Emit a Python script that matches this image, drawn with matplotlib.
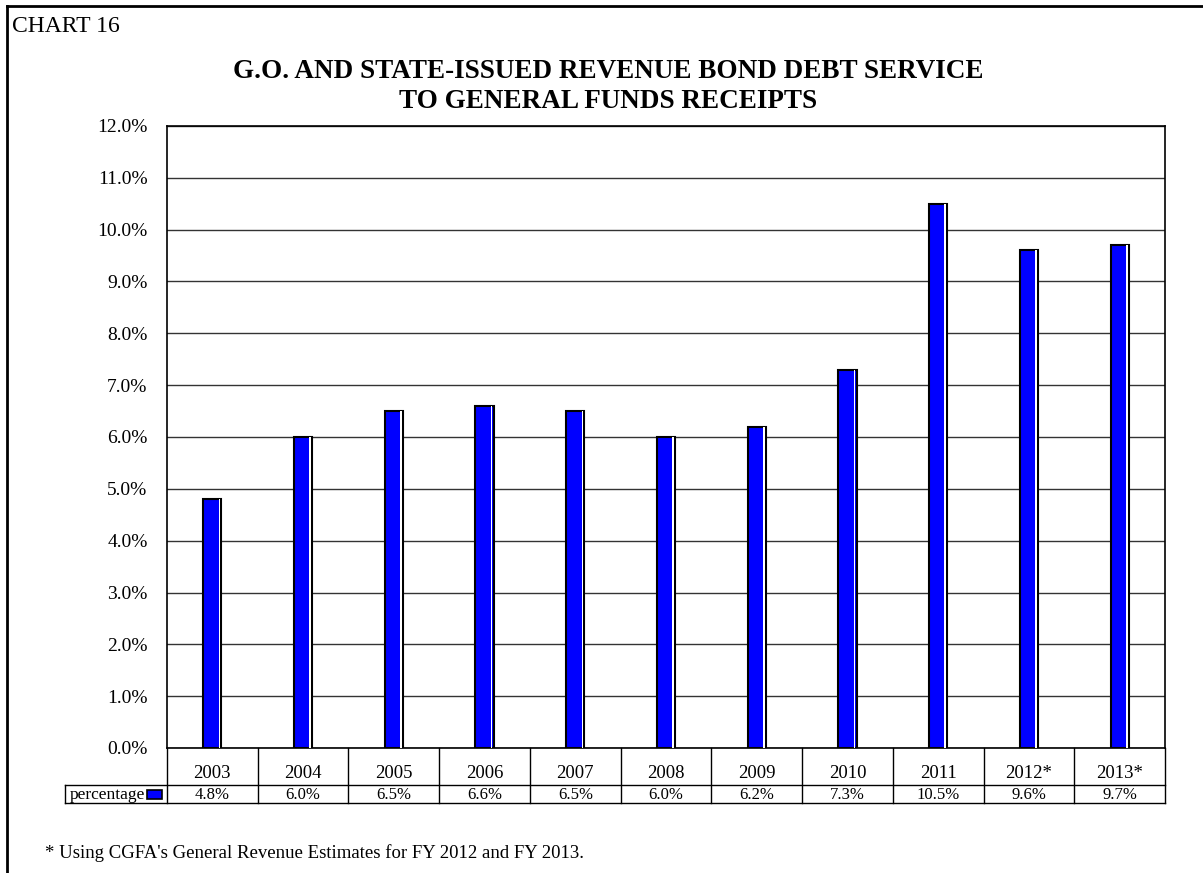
import numpy as np
import matplotlib.pyplot as plt
from matplotlib.patches import Rectangle

plt.rcParams['font.family'] = ['Liberation Serif', 'DejaVu Serif']

# Données du graphique
years = ["2003", "2004", "2005", "2006", "2007", "2008", "2009", "2010", "2011", "2012*", "2013*"]
percentage = [4.8, 6.0, 6.5, 6.6, 6.5, 6.0, 6.2, 7.3, 10.5, 9.6, 9.7]
series_name = "percentage"
title_lines = ["G.O. AND STATE-ISSUED REVENUE BOND DEBT SERVICE", "TO GENERAL FUNDS RECEIPTS"]
footnote = "* Using CGFA's General Revenue Estimates for FY 2012 and FY 2013."

W, H = 1203, 873
fig = plt.figure(figsize=(W / 100, H / 100), dpi=100)


def fy(py):
    return 1 - py / H


def fx(px):
    return px / W


# Cadre extérieur
fig.add_artist(plt.Line2D([fx(7), fx(7)], [0, fy(6)], color='black', lw=2))
fig.add_artist(plt.Line2D([fx(7), 1], [fy(6), fy(6)], color='black', lw=2))
fig.text(fx(12), fy(26), "CHART 16", fontsize=17, va='center', ha='left')
fig.text(fx(608), fy(72), title_lines[0], fontsize=19.5, fontweight='bold', ha='center', va='center')
fig.text(fx(608), fy(101), title_lines[1], fontsize=19.5, fontweight='bold', ha='center', va='center')

# Zone du graphique
left, right, top, bottom = 167, 1165, 126, 748
ax = fig.add_axes([fx(left), fy(bottom), (right - left) / W, (bottom - top) / H])
x = np.arange(len(years))
ax.bar(x, percentage, width=0.2, color='#0000ff', edgecolor='black', linewidth=1.5, zorder=3)
ax.bar(x + 0.078, percentage, width=0.018, color='white', linewidth=0, zorder=4)
ax.set_xlim(-0.5, len(years) - 0.5)
ax.set_ylim(0, 12)
ax.set_yticks(np.arange(0, 13, 1))
ax.set_yticklabels([f"{v:.1f}%" for v in range(13)], fontsize=14)
ax.tick_params(axis='y', length=0, pad=14)
ax.set_xticks([])
ax.grid(axis='y', color='#333333', lw=1, zorder=0)
for s in ax.spines.values():
    s.set_linewidth(1.2)

# Tableau de données sous le graphique
row1 = 785
row2 = 803
cell_w = (right - left) / len(years)

for i, (yr, val) in enumerate(zip(years, percentage)):
    cx = left + (i + 0.5) * cell_w
    fig.text(fx(cx), fy(773), yr, fontsize=13.5, ha='center', va='center')
    fig.text(fx(cx), fy(795), f"{val:.1f}%", fontsize=12, ha='center', va='center')
for i in range(len(years) + 1):
    px = left + i * cell_w
    fig.add_artist(plt.Line2D([fx(px), fx(px)], [fy(bottom), fy(row2)], color='black', lw=1))
fig.add_artist(plt.Line2D([fx(65), fx(right)], [fy(row1), fy(row1)], color='black', lw=1))
fig.add_artist(plt.Line2D([fx(65), fx(right)], [fy(row2), fy(row2)], color='black', lw=1))
fig.add_artist(plt.Line2D([fx(65), fx(65)], [fy(row1), fy(row2)], color='black', lw=1))
fig.text(fx(70), fy(795), series_name, fontsize=12.5, ha='left', va='center')
fig.add_artist(Rectangle((fx(147), fy(799)), 15 / W, 9 / H, facecolor='#0000ff', edgecolor='black', lw=1.2))

fig.text(fx(45), fy(853), footnote, fontsize=13.5, ha='left', va='center')

fig.savefig("out.png", dpi=100)
